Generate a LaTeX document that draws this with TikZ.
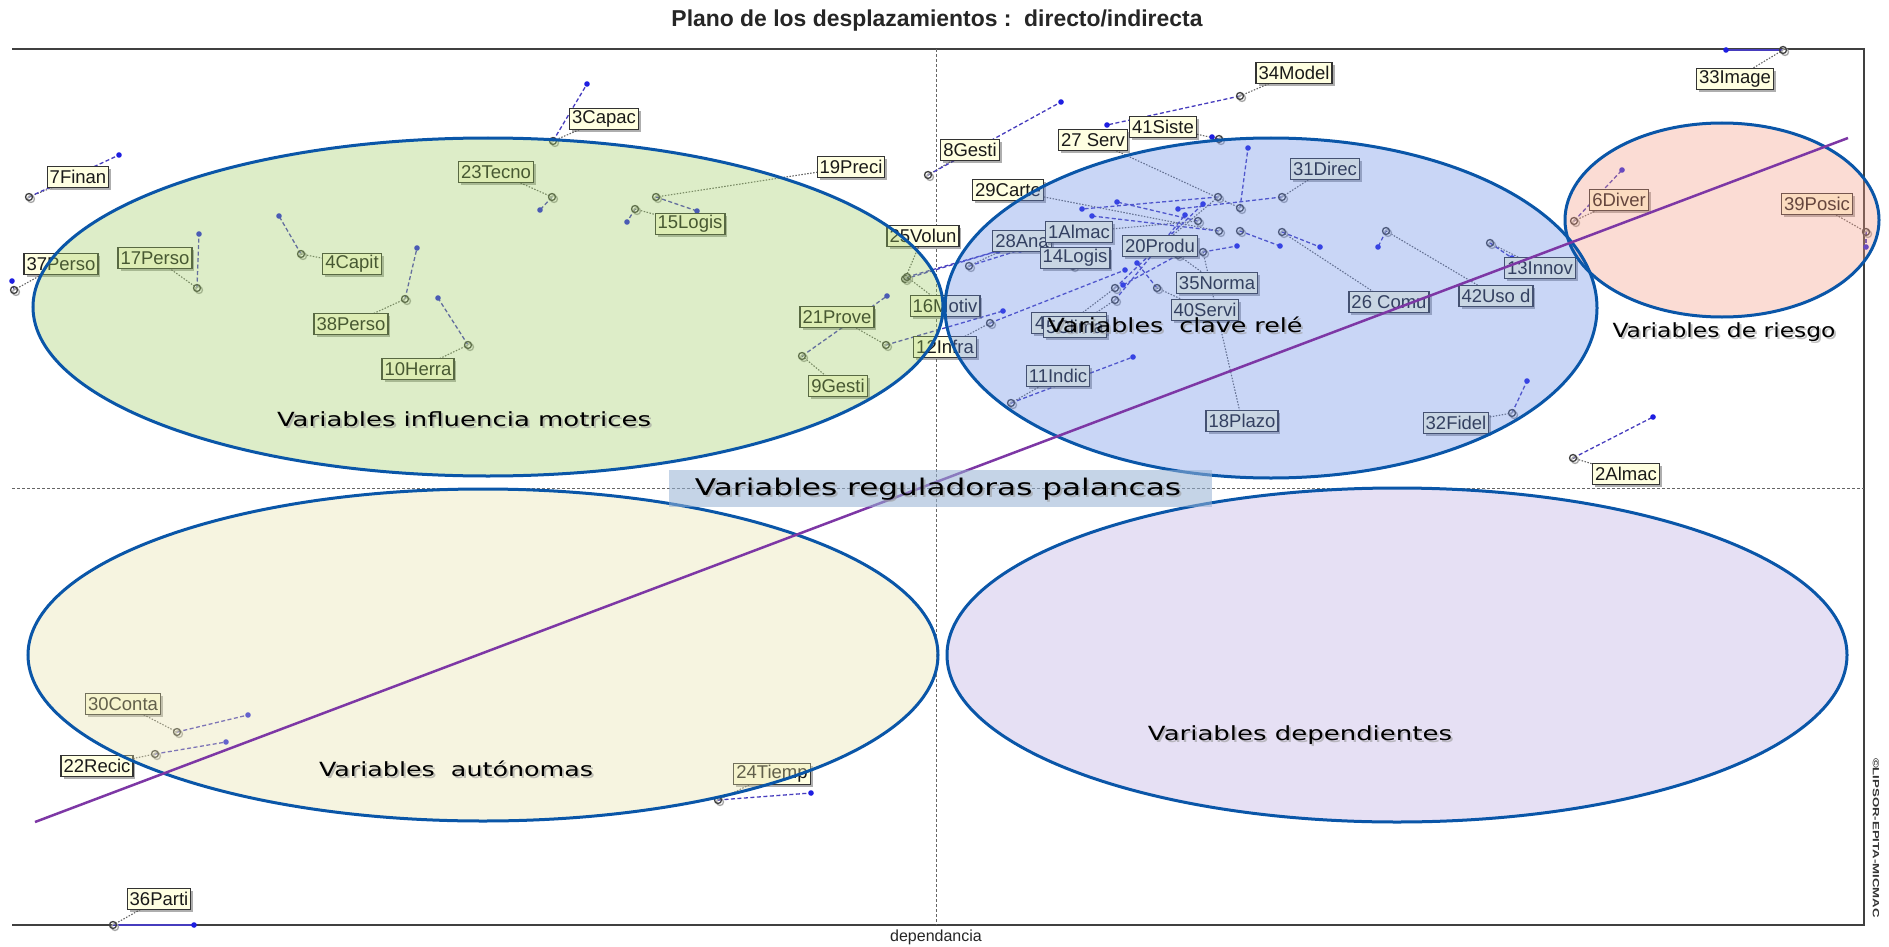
\documentclass[tikz,border=0pt]{standalone}
\usepackage{fontspec}
\usepackage{graphicx}
\setmainfont{Liberation Sans}
\newfontfamily\regfont{DejaVu Sans}
\usetikzlibrary{shadows}

\definecolor{lblfill}{RGB}{255,255,225}
\definecolor{movec}{RGB}{70,60,190}
\definecolor{dotc}{RGB}{30,30,225}
\definecolor{ringc}{RGB}{10,86,168}
\definecolor{trendc}{RGB}{125,55,165}
\definecolor{gfill}{RGB}{158,206,98}
\definecolor{bfill}{RGB}{101,138,232}
\definecolor{pfill}{RGB}{244,155,132}
\definecolor{yfill}{RGB}{232,226,169}
\definecolor{lfill}{RGB}{184,169,226}
\definecolor{regbox}{RGB}{150,178,212}

% stretch a text horizontally to a given width, keeping its height
\newcommand\widen[2]{\resizebox{#1}{\height}{#2}}

% id / anchor x,y / moved x,y / label x,y / label text
\def\vlist{7/29/197/119/155/78/177/7Finan,
37/14/290/12/281/61/264/37Perso,
17/197/288/199/234/155/258/17Perso,
4/301/254/279/216/352/264/4Capit,
38/405/299/417/248/351/324/38Perso,
10/468/345/438/298/418/369/10Herra,
3/553/141/587/84/604/119/3Capac,
23/552/197/540/210/496/172/23Tecno,
19/656/197/697/211/851/167/19Preci,
15/635/209/627/222/690/224/15Logis,
21/886/345/1003/311/837/317/21Prove,
9/802/356/887/296/838/386/9Gesti,
25/905/279/998/251/923/236/25Volun,
16/907/277/1050/236/945/306/16Motiv,
12/990/323/1125/270/945/347/12Infra,
11/1011/403/1133/357/1058/376/11Indic,
8/928/175/1061/102/970/150/8Gesti,
34/1240/96/1107/125/1294/73/34Model,
41/1219/139/1212/137/1163/127/41Siste,
27/1240/208/1248/148/1093/140/27 Serv,
31/1282/197/1178/209/1325/169/31Direc,
29/1219/231/1092/216/1008/190/29Carte,
28/969/266/1020/250/1022/241/28Ana,
1/1198/221/1117/202/1079/232/1Almac,
14/1073/266/1092/264/1075/258/14Logis,
20/1218/197/1082/209/1160/246/20Produ,
35/1178/255/1123/285/1217/283/35Norma,
40/1157/288/1137/263/1205/310/40Servi,
18/1203/252/1237/246/1242/421/18Plazo,
26/1282/232/1320/247/1389/302/26 Comu,
42/1386/231/1378/247/1496/296/42Uso d,
13/1490/243/1512/258/1540/268/13Innov,
32/1512/413/1527/381/1456/423/32Fidel,
2/1573/458/1653/417/1626/474/2Almac,
6/1574/221/1622/170/1619/200/6Diver,
39/1866/232/1866/247/1817/204/39Posic,
30/177/732/248/715/123/704/30Conta,
22/155/754/226/742/97/766/22Recic,
24/718/800/811/793/772/774/24Tiemp}

% variables drawn outside the main loop
\def\xlist{33,36,43,5,44}

\begin{document}
\begin{tikzpicture}[x=1pt,y=-1pt,
  lbl/.style={draw=black!80, line width=1.2pt, fill=lblfill, text=black!90,
    font=\fontsize{18.5}{19}\selectfont, inner xsep=2.5pt, inner ysep=0pt,
    minimum height=21pt,
    drop shadow={shadow xshift=2.5pt, shadow yshift=-2.5pt, opacity=0.45, fill=black!70}},
  leader/.style={draw=black!60, line width=1.1pt, dash pattern=on 1.5pt off 1.5pt},
  move/.style={draw=movec, line width=1.3pt, dash pattern=on 4pt off 2.5pt},
  movesolid/.style={draw=movec, line width=1.3pt},
  anch/.style={draw=black!75, line width=1.3pt},
  anchsh/.style={draw=black!35, line width=1.3pt},
  zone/.style={fill opacity=0.35},
  ring/.style={draw=ringc, line width=3pt},
  axis/.style={draw=black!60, line width=1pt, dash pattern=on 3pt off 2pt},
  frame/.style={draw=black!75, line width=2pt},
  regl/.style={font=\regfont\fontsize{19.5}{20}\selectfont, text=black, inner sep=0pt},
  reglsh/.style={font=\regfont\fontsize{19.5}{20}\selectfont, text=black!40, inner sep=0pt, opacity=0.6}]

\useasboundingbox (0,0) rectangle (1889,947);
\fill[white] (0,0) rectangle (1889,947);

% frame and axes
\coordinate (ftl) at (12,49);
\coordinate (ftr) at (1864,49);
\coordinate (fbr) at (1864,925);
\coordinate (fbl) at (12,925);
\draw[frame] (ftl) -- (ftr) -- (fbr) -- (fbl);
\coordinate (vt) at (936,49);
\coordinate (vb) at (936,925);
\coordinate (hl) at (12,488);
\coordinate (hr) at (1864,488);
\draw[axis] (vt) -- (vb);
\draw[axis] (hl) -- (hr);

% displacement segments and leaders
\foreach \vid/\ax/\ay/\dx/\dy/\lx/\ly/\lab in \vlist {
  \coordinate (a\vid) at (\ax,\ay);
  \coordinate (d\vid) at (\dx,\dy);
  \coordinate (c\vid) at (\lx,\ly);
  \draw[leader] (a\vid) -- (c\vid);
  \draw[move] (a\vid) -- (d\vid);
}
% variables moving along the border, and the two overlapping labels
\coordinate (a33) at (1783,50); \coordinate (d33) at (1726,50); \coordinate (c33) at (1735,79);
\coordinate (a36) at (113,925); \coordinate (d36) at (194,925); \coordinate (c36) at (159,899);
\coordinate (a43) at (1115,288); \coordinate (d43) at (1203,204); \coordinate (c43) at (1069,323);
\coordinate (a5) at (1115,300); \coordinate (d5) at (1185,215); \coordinate (c5) at (1075,327);
\coordinate (a44) at (1240,231); \coordinate (d44) at (1280,246);
\draw[leader] (a33) -- (c33);
\draw[leader] (a36) -- (c36);
\draw[leader] (a43) -- (c43);
\draw[leader] (a5) -- (c5);
\draw[movesolid] (a33) -- (d33);
\draw[movesolid] (a36) -- (d36);
\draw[move] (a43) -- (d43);
\draw[move] (a5) -- (d5);
\draw[move] (a44) -- (d44);

% points: moved position (dot) and initial position (ring)
\foreach \vid/\ax/\ay/\dx/\dy/\lx/\ly/\lab in \vlist {
  \fill[dotc] (d\vid) circle[radius=2.8pt];
  \draw[anchsh] ([shift={(2,2)}]a\vid) circle[radius=3.5pt];
  \draw[anch] (a\vid) circle[radius=3.5pt];
}
\foreach \vid in \xlist {
  \fill[dotc] (d\vid) circle[radius=2.8pt];
  \draw[anchsh] ([shift={(2,2)}]a\vid) circle[radius=3.5pt];
  \draw[anch] (a\vid) circle[radius=3.5pt];
}

% labels
\foreach \vid/\ax/\ay/\dx/\dy/\lx/\ly/\lab in \vlist {
  \node[lbl] (l\vid) at (c\vid) {\lab};
}
\node[lbl] (l33) at (c33) {33Image};
\node[lbl] (l36) at (c36) {36Parti};
\node[lbl, minimum width=75pt, text width=68pt, align=left] (l43) at (c43) {4};
\node[lbl] (l5) at (c5) {5Clima};

% zones
\fill[gfill, zone] (488,307) ellipse [x radius=455pt, y radius=169pt];
\fill[bfill, zone] (1271,308) ellipse [x radius=326pt, y radius=170pt];
\fill[pfill, zone] (1722,220) ellipse [x radius=157pt, y radius=97pt];
\fill[yfill, zone] (483,655) ellipse [x radius=455pt, y radius=166pt];
\fill[lfill, zone] (1397,655) ellipse [x radius=450pt, y radius=167pt];
\draw[ring] (488,307) ellipse [x radius=455pt, y radius=169pt];
\draw[ring] (1271,308) ellipse [x radius=326pt, y radius=170pt];
\draw[ring] (1722,220) ellipse [x radius=157pt, y radius=97pt];
\draw[ring] (483,655) ellipse [x radius=455pt, y radius=166pt];
\draw[ring] (1397,655) ellipse [x radius=450pt, y radius=167pt];

% diagonal
\coordinate (ds) at (35,822);
\coordinate (de) at (1848,138);
\draw[trendc, line width=2.5pt] (ds) -- (de);

% lever band
\fill[regbox, opacity=0.55] (669,470) rectangle (1212,507);
\node[reglsh, font=\regfont\fontsize{23}{24}\selectfont] (regsh) at (940,491) {\widen{486pt}{Variables reguladoras palancas}};
\node[regl, font=\regfont\fontsize{23}{24}\selectfont] (regt) at (938,489) {\widen{486pt}{Variables reguladoras palancas}};

% zone names
\node[reglsh] (z1s) at (466,421) {\widen{374pt}{Variables influencia motrices}};
\node[regl] (z1) at (464,419) {\widen{374pt}{Variables influencia motrices}};
\node[reglsh] (z2s) at (1177,327) {\widen{255pt}{Variables\ \ clave relé}};
\node[regl] (z2) at (1175,325) {\widen{255pt}{Variables\ \ clave relé}};
\node[reglsh] (z3s) at (1726,334) {\widen{223pt}{Variables de riesgo}};
\node[regl] (z3) at (1724,332) {\widen{223pt}{Variables de riesgo}};
\node[reglsh] (z4s) at (458,771) {\widen{274pt}{Variables\ \ autónomas}};
\node[regl] (z4) at (456,769) {\widen{274pt}{Variables\ \ autónomas}};
\node[reglsh] (z5s) at (1302,737) {\widen{304pt}{Variables dependientes}};
\node[regl] (z5) at (1300,735) {\widen{304pt}{Variables dependientes}};

% titles
\node[font=\bfseries\fontsize{23}{23}\selectfont, text=black!85] (title) at (937,21)
  {\widen{531pt}{Plano de los desplazamientos :\ \ directo/indirecta}};
\node[font=\fontsize{16}{16}\selectfont, text=black!85] (xlab) at (936,937) {dependancia};
\node[rotate=-90, font=\bfseries\fontsize{9}{9}\selectfont, text=black!80] (copy) at (1876,838)
  {\widen{160pt}{©LIPSOR-EPITA-MICMAC}};
\end{tikzpicture}
\end{document}
